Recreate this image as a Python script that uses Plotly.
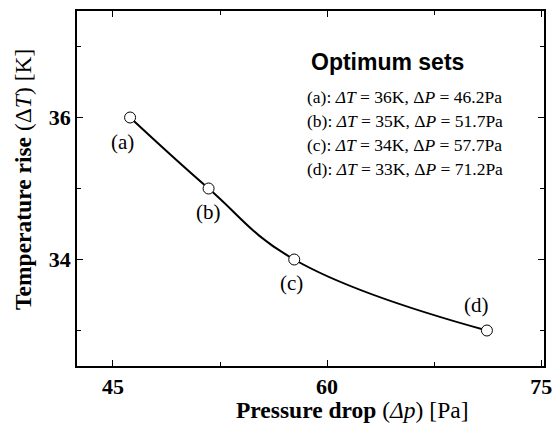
import plotly.graph_objects as go

# Optimum design sets
set_labels = ["(a)", "(b)", "(c)", "(d)"]
delta_T = [36, 35, 34, 33]          # temperature rise [K]
delta_P = [46.2, 51.7, 57.7, 71.2]  # pressure drop [Pa]

x_ticks = [45, 60, 75]
x_minor = [52.5, 67.5]
y_ticks = [34, 36]
y_minor = [33, 35, 37]

# label offsets (px) relative to each marker
label_shift = [(-8, -24), (0, -23), (-3, -23), (-10, 26)]

serif = "Liberation Serif, Times New Roman, serif"
sans = "Liberation Sans, Arial, sans-serif"

fig = go.Figure()
fig.add_trace(go.Scatter(
    x=delta_P, y=delta_T, mode="lines",
    line=dict(color="black", width=2, shape="spline", smoothing=1.2),
    hoverinfo="skip", showlegend=False,
))
fig.add_trace(go.Scatter(
    x=delta_P, y=delta_T, mode="markers",
    marker=dict(symbol="circle", size=11, color="white",
                line=dict(color="black", width=1)),
    showlegend=False,
))

annotations = []
for lab, px, ty, (dx, dy) in zip(set_labels, delta_P, delta_T, label_shift):
    annotations.append(dict(
        x=px, y=ty, xref="x", yref="y", text=lab, showarrow=False,
        xanchor="center", yanchor="middle",
        xshift=dx, yshift=dy, font=dict(family=serif, size=21, color="black"),
    ))

# box with the optimum sets
annotations.append(dict(
    x=393, y=62, xref="paper", yref="paper", text="<b>Optimum sets</b>",
    xanchor="center", yanchor="middle",
    showarrow=False, font=dict(family=sans, size=23, color="black"),
))
line_y = [97, 121, 145, 169]
for lab, ty, px, yy in zip(set_labels, delta_T, delta_P, line_y):
    annotations.append(dict(
        x=309, y=yy, xref="paper", yref="paper", xanchor="left", yanchor="middle",
        text=f"{lab}: <i>ΔT</i> = {ty}K, Δ<i>P</i> = {px}Pa",
        showarrow=False, font=dict(family=serif, size=17.5, color="black"),
    ))

# axis titles
annotations.append(dict(
    x=357, y=410, xref="paper", yref="paper", xanchor="center", yanchor="middle",
    text="<b>Pressure drop</b> (<i>Δp</i>) [Pa]", showarrow=False,
    font=dict(family=serif, size=23.5, color="black"),
))
annotations.append(dict(
    x=22, y=179, xref="paper", yref="paper", xanchor="center", yanchor="middle",
    textangle=-90,
    text="<b>Temperature rise</b> (Δ<i>T</i>) [K]", showarrow=False,
    font=dict(family=serif, size=23.5, color="black"),
))

# convert pixel positions of paper annotations to paper fractions
L, R, T, B = 77, 4, 11, 62
W, H = 556, 428
pw, ph = W - L - R, H - T - B
for a in annotations:
    if a["xref"] == "paper":
        a["x"] = (a["x"] - L) / pw
        a["y"] = (H - B - a["y"]) / ph

axis_common = dict(
    showline=True, linecolor="black", linewidth=1.5, mirror="ticks",
    ticks="inside", ticklen=6, tickwidth=1, tickcolor="black",
    showgrid=False, zeroline=False, ticklabeloverflow="allow",
    tickfont=dict(family=serif, size=22, color="black"),
)

fig.update_layout(
    width=W, height=H,
    margin=dict(l=L, r=R, t=T, b=B),
    paper_bgcolor="white", plot_bgcolor="white",
    xaxis=dict(range=[42.48, 75.2], tickvals=x_ticks,
               ticktext=[f"<b>{v}</b>" for v in x_ticks],
               minor=dict(tickvals=x_minor, ticks="inside", ticklen=4,
                          tickcolor="black"),
               **axis_common),
    yaxis=dict(range=[32.5, 37.5], tickvals=y_ticks,
               ticktext=[f"<b>{v}</b>" for v in y_ticks],
               minor=dict(tickvals=y_minor, ticks="inside", ticklen=4,
                          tickcolor="black"),
               **axis_common),
    annotations=annotations,
)

fig.write_html("out.html")
